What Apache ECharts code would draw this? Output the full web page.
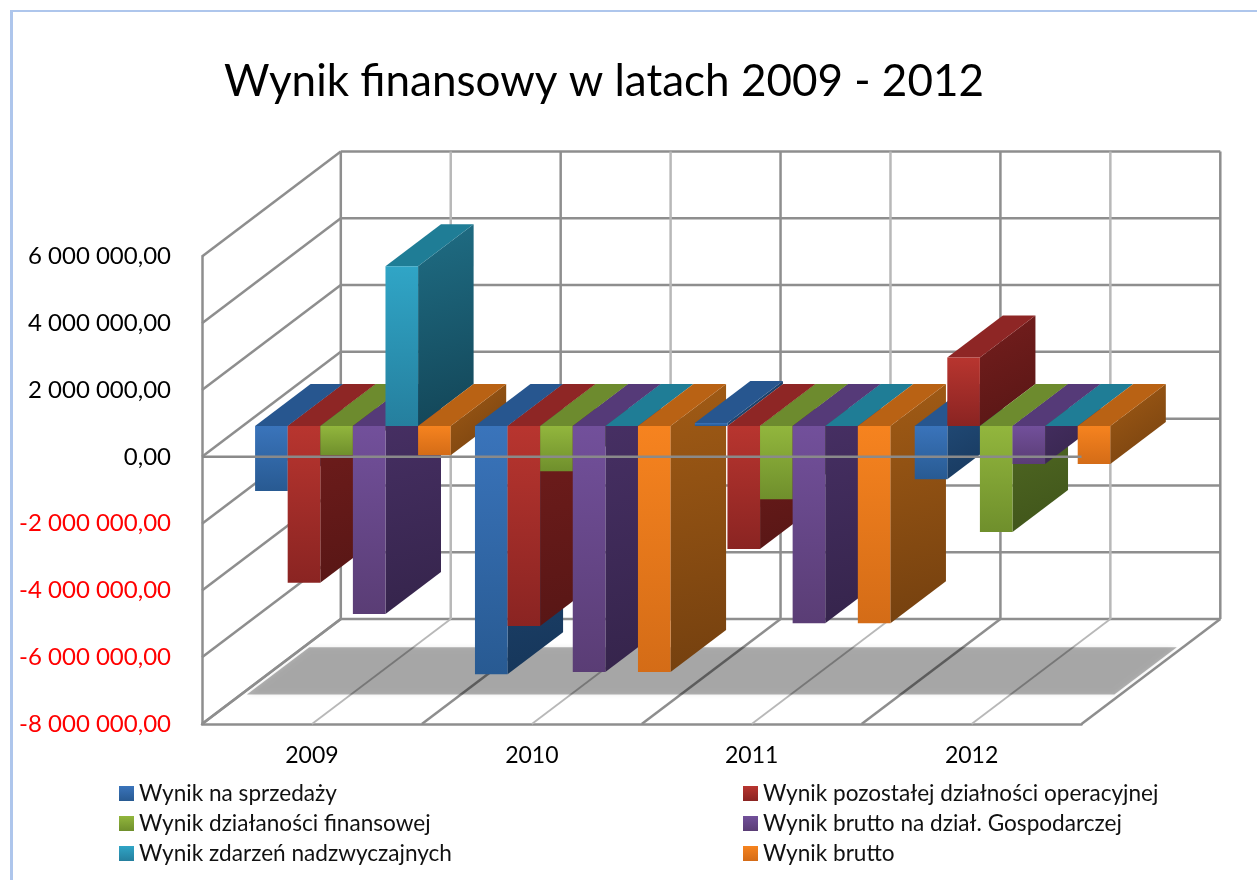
<!DOCTYPE html>
<html>
<head>
<meta charset="utf-8">
<title>Wynik finansowy</title>
<script src="https://cdn.jsdelivr.net/npm/echarts@6/dist/echarts.min.js"></script>
<style>
  html, body { margin: 0; padding: 0; background: #fff; }
  #chart { width: 1257px; height: 880px; }
</style>
</head>
<body>
<div id="chart"></div>
<script>
// Chart content
const chartTitle = 'Wynik finansowy w latach 2009 - 2012';
const years = ['2009', '2010', '2011', '2012'];
const yTicks = [-8000000, -6000000, -4000000, -2000000, 0, 2000000, 4000000, 6000000];

const seriesNames = [
  'Wynik na sprzedaży',
  'Wynik pozostałej działności operacyjnej',
  'Wynik działaności finansowej',
  'Wynik brutto na dział. Gospodarczej',
  'Wynik zdarzeń nadzwyczajnych',
  'Wynik brutto'
];

const wynikNaSprzedazy = [-1950000, -7440000, 90000, -1600000];
const wynikPozostalej = [-4700000, -5990000, -3690000, 2050000];
const wynikFinansowej = [-880000, -1360000, -2200000, -3180000];
const wynikBruttoDzial = [-5630000, -7370000, -5910000, -1140000];
const wynikZdarzen = [4780000, 0, 0, 0];
const wynikBrutto = [-880000, -7370000, -5910000, -1140000];

const seriesValues = [
  wynikNaSprzedazy, wynikPozostalej, wynikFinansowej,
  wynikBruttoDzial, wynikZdarzen, wynikBrutto
];

// Face colours per series: front gradient, side gradient, top
const frontColors = [
  ['#3a74bb', '#285a92'], ['#b8352f', '#8a2422'], ['#92b63d', '#6f8f2c'],
  ['#72509b', '#5a3d75'], ['#30a5c6', '#257f9e'], ['#f6831f', '#d46c17']
];
const sideColors = [
  ['#24507f', '#16365a'], ['#751e1d', '#571615'], ['#566f25', '#3f541a'],
  ['#493167', '#35244b'], ['#1f6d84', '#134557'], ['#a15b15', '#74400f']
];
const topColors = ['#27568f', '#8e2625', '#6d8b2e', '#553a78', '#1f7d96', '#b96214'];

// Oblique projection of the depth axis
const depthX = 138.8;
const depthY = 105;
const barFrontDepth = 0.295;
const barBackDepth = 0.695;
const barCountPerYear = 6;
const barWidth = 32.6;

const darkLine = '#8e8e8e';
const lightLine = '#b8b8b8';
const gridWidth = 2.5;
const uiFont = 'Lato';

const project = (p, depth) => [p[0] + depthX * depth, p[1] - depthY * depth];
const vGradient = (c) => ({
  type: 'linear', x: 0, y: 0, x2: 0, y2: 1,
  colorStops: [{ offset: 0, color: c[0] }, { offset: 1, color: c[1] }]
});
const dGradient = (c) => ({
  type: 'linear', x: 0, y: 0, x2: 1, y2: 1,
  colorStops: [{ offset: 0, color: c[0] }, { offset: 1, color: c[1] }]
});
const lineEl = (a, b, stroke, width, z2) => ({
  type: 'line', z2: z2 || 0, silent: true,
  shape: { x1: a[0], y1: a[1], x2: b[0], y2: b[1] },
  style: { stroke: stroke, lineWidth: width }
});

// One 3D column: side face, top face and front face
function renderBar(seriesIndex) {
  return function (params, api) {
    const cat = api.value(0);
    const val = api.value(1);
    const center = api.coord([cat, 0]);
    const level = api.coord([cat, val]);
    const x0 = center[0] - barWidth * barCountPerYear / 2 + seriesIndex * barWidth;
    const x1 = x0 + barWidth;
    const upper = Math.min(center[1], level[1]);
    const lower = Math.max(center[1], level[1]);

    const f = (x, y) => project([x, y], barFrontDepth);
    const b = (x, y) => project([x, y], barBackDepth);
    const order = cat * 10 + seriesIndex;

    const side = [f(x1, upper), b(x1, upper), b(x1, lower), f(x1, lower)];
    const top = [f(x0, upper), b(x0, upper), b(x1, upper), f(x1, upper)];
    const front = [f(x0, upper), f(x1, upper), f(x1, lower), f(x0, lower)];

    return {
      type: 'group',
      children: [
        {
          type: 'polygon', z2: order, shape: { points: side },
          style: { fill: dGradient(sideColors[seriesIndex]) }
        },
        {
          type: 'polygon', z2: order, shape: { points: top },
          style: { fill: topColors[seriesIndex] }
        },
        {
          type: 'polygon', z2: order, shape: { points: front },
          style: { fill: vGradient(frontColors[seriesIndex]) }
        }
      ]
    };
  };
}

const barSeries = seriesNames.map((name, s) => ({
  type: 'custom',
  name: name,
  z: 3,
  coordinateSystem: 'cartesian2d',
  renderItem: renderBar(s),
  encode: { x: 0, y: 1 },
  itemStyle: { color: vGradient(frontColors[s]) },
  data: seriesValues[s].map((v, i) => [i, v])
}));

// Horizontal gridlines on the back wall and their obliques on the side wall
const wallSeries = {
  type: 'custom',
  z: 1,
  silent: true,
  renderItem: function (params, api) {
    const tick = api.value(1);
    const band = api.size([1, 0])[0];
    const c0 = api.coord([0, tick]);
    const cN = api.coord([years.length - 1, tick]);
    const left = [c0[0] - band / 2, c0[1]];
    const right = [cN[0] + band / 2, cN[1]];
    return {
      type: 'group',
      children: [
        lineEl(left, project(left, 1), darkLine, gridWidth),
        lineEl(project(left, 1), project(right, 1), darkLine, gridWidth)
      ]
    };
  },
  encode: { x: 0, y: 1 },
  data: yTicks.map((t) => [0, t])
};

// Vertical gridlines on the back wall, continued across the floor
const verticalSeries = {
  type: 'custom',
  z: 1,
  silent: true,
  renderItem: function (params, api) {
    const i = api.value(0);
    const band = api.size([1, 0])[0];
    const low = api.coord([i, yTicks[0]]);
    const high = api.coord([i, yTicks[yTicks.length - 1]]);
    const children = [];
    const addAt = (x, color, floorWidth) => {
      const fl = [x, low[1]];
      const tp = [x, high[1]];
      children.push(lineEl(project(fl, 1), project(tp, 1), color, gridWidth));
      children.push(lineEl(fl, project(fl, 1), color, floorWidth));
    };
    addAt(low[0] - band / 2, darkLine, gridWidth);
    addAt(low[0], lightLine, 1.8);
    if (i === years.length - 1) addAt(low[0] + band / 2, darkLine, gridWidth);
    return { type: 'group', children: children };
  },
  encode: { x: 0, y: 1 },
  data: years.map((y, i) => [i, yTicks[0]])
};

// Translucent shaded band lying on the floor, above the floor lines
const floorBandSeries = {
  type: 'custom',
  z: 2,
  silent: true,
  renderItem: function (params, api) {
    const band = api.size([1, 0])[0];
    const c0 = api.coord([0, yTicks[0]]);
    const cN = api.coord([years.length - 1, yTicks[0]]);
    const inset = 6;
    const l = [c0[0] - band / 2 + inset, c0[1]];
    const r = [cN[0] + band / 2 - inset, cN[1]];
    const near = 0.28;
    const far = 0.73;
    return {
      type: 'polygon',
      shape: { points: [project(l, near), project(l, far), project(r, far), project(r, near)] },
      style: { fill: 'rgba(0,0,0,0.29)', shadowBlur: 5, shadowColor: 'rgba(0,0,0,0.29)' }
    };
  },
  encode: { x: 0, y: 1 },
  data: [[0, yTicks[0]]]
};

// Zero line, drawn in front of the columns
const zeroLineSeries = {
  type: 'custom',
  z: 6,
  silent: true,
  renderItem: function (params, api) {
    const band = api.size([1, 0])[0];
    const c0 = api.coord([0, 0]);
    const cN = api.coord([years.length - 1, 0]);
    return lineEl([c0[0] - band / 2, c0[1]], [cN[0] + band / 2, cN[1]], '#8a8a8a', gridWidth);
  },
  encode: { x: 0, y: 1 },
  data: [[0, 0]]
};

// "6 000 000,00" style tick labels
function formatTick(value) {
  const sign = value < 0 ? '-' : '';
  const digits = String(Math.abs(value)).replace(/\B(?=(\d{3})+(?!\d))/g, ' ');
  return sign + digits + ',00';
}

const chart = echarts.init(document.getElementById('chart'), null, { renderer: 'canvas' });
const legendText = { fontFamily: uiFont, fontSize: 22.6, color: '#111', lineHeight: 20 };

chart.setOption({
  animation: false,
  backgroundColor: '#ffffff',
  title: {
    text: chartTitle,
    left: 219,
    top: 55,
    textStyle: { fontFamily: uiFont, fontSize: 44, fontWeight: 'normal', color: '#000' }
  },
  legend: [
    {
      left: 119, top: 782, padding: 0, orient: 'vertical', itemWidth: 15, itemHeight: 15, itemGap: 7,
      icon: 'rect', selectedMode: false, textStyle: legendText,
      data: [seriesNames[0], seriesNames[2], seriesNames[4]]
    },
    {
      left: 743, top: 782, padding: 0, orient: 'vertical', itemWidth: 15, itemHeight: 15, itemGap: 7,
      icon: 'rect', selectedMode: false, textStyle: legendText,
      data: [seriesNames[1], seriesNames[3], seriesNames[5]]
    }
  ],
  grid: { left: 202, right: 175.5, top: 256.5, bottom: 156, containLabel: false },
  xAxis: {
    type: 'category',
    data: years,
    axisTick: { show: false },
    axisLine: { onZero: false, lineStyle: { color: darkLine, width: gridWidth } },
    axisLabel: { margin: 20, color: '#000', fontFamily: uiFont, fontSize: 23 }
  },
  yAxis: {
    type: 'value',
    min: yTicks[0],
    max: yTicks[yTicks.length - 1],
    interval: 2000000,
    axisTick: { show: false },
    axisLine: { show: true, lineStyle: { color: darkLine, width: gridWidth } },
    splitLine: { show: false },
    axisLabel: {
      margin: 31,
      fontFamily: uiFont,
      fontSize: 24,
      formatter: formatTick,
      color: (value) => (Number(value) < 0 ? '#ff0000' : '#000000')
    }
  },
  graphic: [
    { type: 'line', silent: true, shape: { x1: 12, y1: 11, x2: 1257, y2: 11 }, style: { stroke: '#aec6ec', lineWidth: 2 } },
    { type: 'line', silent: true, shape: { x1: 11.5, y1: 10, x2: 11.5, y2: 880 }, style: { stroke: '#aec6ec', lineWidth: 3 } }
  ],
  series: [wallSeries, verticalSeries, floorBandSeries].concat(barSeries, [zeroLineSeries])
});
</script>
</body>
</html>
